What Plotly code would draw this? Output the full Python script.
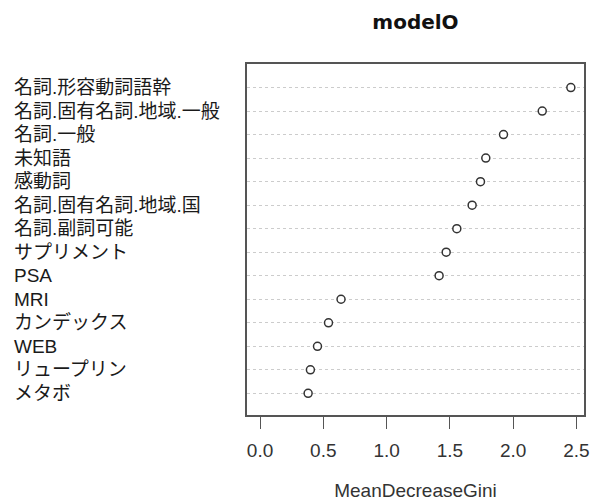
import plotly.graph_objects as go

# Data (top to bottom as displayed)
labels = ["名詞.形容動詞語幹", "名詞.固有名詞.地域.一般", "名詞.一般", "未知語", "感動詞",
          "名詞.固有名詞.地域.国", "名詞.副詞可能", "サプリメント", "PSA", "MRI",
          "カンデックス", "WEB", "リュープリン", "メタボ"]
values = [2.456, 2.23, 1.924, 1.784, 1.742, 1.676, 1.555, 1.471, 1.415, 0.640,
          0.541, 0.454, 0.398, 0.380]
x_ticks = [0.0, 0.5, 1.0, 1.5, 2.0, 2.5]
title_text = "modelO"
x_title = "MeanDecreaseGini"

order = labels[::-1]  # bottom to top

TXT = "Liberation Sans, Arial, Noto Sans CJK JP, sans-serif"

fig = go.Figure()
fig.add_trace(go.Scatter(
    x=values, y=labels, mode="markers",
    marker=dict(symbol="circle", size=8, color="white",
                line=dict(color="#333333", width=1.5)),
    showlegend=False, hoverinfo="x+y",
))

for lab in labels:
    fig.add_annotation(
        x=-0.697, xref="paper", y=lab, yref="y",
        text=lab, showarrow=False, xanchor="left", yanchor="middle",
        font=dict(family=TXT, size=19, color="#1a1a1a"),
    )

fig.update_layout(
    width=591, height=501,
    paper_bgcolor="white", plot_bgcolor="white",
    margin=dict(l=247, r=7, t=64, b=86, autoexpand=False),
    title=dict(text=title_text, x=0.703, xanchor="center", y=0.956, yanchor="middle",
               font=dict(family="DejaVu Sans, Verdana, sans-serif", size=20,
                         color="#111111", weight="bold")),
    xaxis=dict(
        range=[-0.103, 2.56], tickvals=x_ticks, ticktext=[f"{v:.1f}" for v in x_ticks],
        showgrid=False, zeroline=False, automargin=False,
        showline=True, mirror=True, linecolor="#555555", linewidth=1.5,
        ticks="outside", ticklen=12, tickcolor="#555555", tickwidth=1.3,
        ticklabelstandoff=5,
        tickfont=dict(family=TXT, size=19, color="#333333"),
        title=dict(text=x_title, font=dict(family=TXT, size=19, color="#333333"),
                   standoff=25),
    ),
    yaxis=dict(
        type="category", categoryorder="array", categoryarray=order,
        range=[-0.92, 14.0], automargin=False,
        showticklabels=False, ticks="",
        showgrid=True, gridcolor="#cccccc", griddash="dot", gridwidth=1,
        zeroline=False,
        showline=True, mirror=True, linecolor="#555555", linewidth=1.5,
    ),
)

fig.write_html(
    "out.html",
    config={"displayModeBar": False},
    post_script="document.body.style.margin='0';document.body.style.overflow='hidden';",
)
